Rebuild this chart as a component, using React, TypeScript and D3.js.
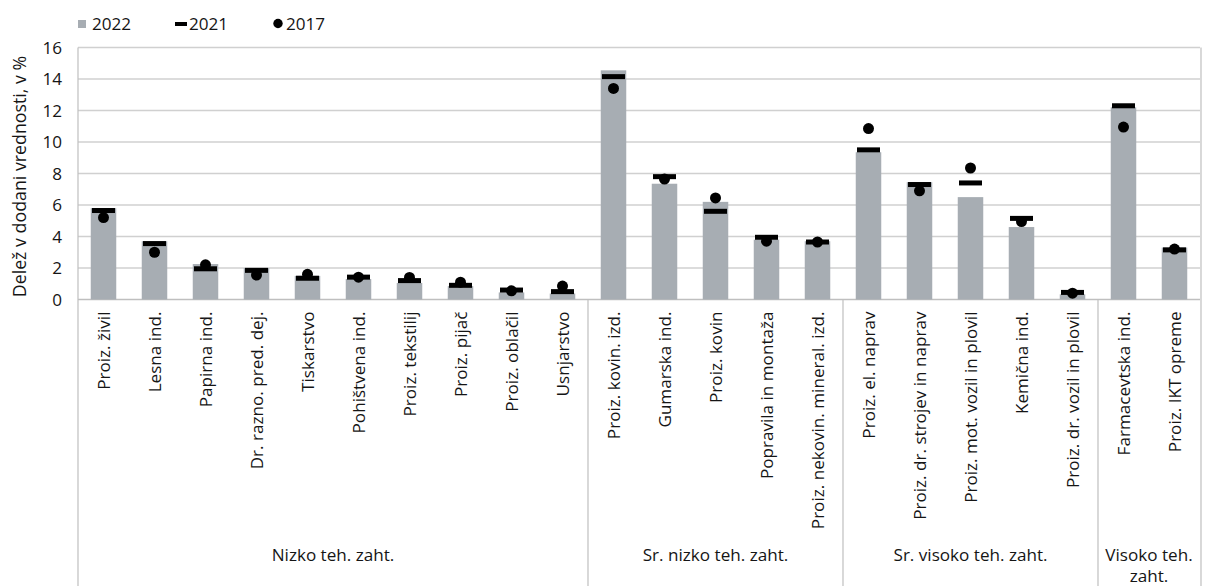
import React from "react";
import * as d3 from "d3";

const categories = [
  "Proiz. živil", "Lesna ind.", "Papirna ind.", "Dr. razno. pred. dej.", "Tiskarstvo",
  "Pohištvena ind.", "Proiz. tekstilij", "Proiz. pijač", "Proiz. oblačil", "Usnjarstvo",
  "Proiz. kovin. izd.", "Gumarska ind.", "Proiz. kovin", "Popravila in montaža", "Proiz. nekovin. mineral. izd.",
  "Proiz. el. naprav", "Proiz. dr. strojev in naprav", "Proiz. mot. vozil in plovil", "Kemična ind.", "Proiz. dr. vozil in plovil",
  "Farmacevtska ind.", "Proiz. IKT opreme",
];
const values2022 = [5.8, 3.7, 2.25, 2.0, 1.5, 1.3, 1.05, 0.85, 0.45, 0.38, 14.55, 7.35, 6.2, 3.8, 3.7, 9.35, 7.45, 6.5, 4.6, 0.33, 12.2, 3.3];
const values2021 = [5.65, 3.55, 1.95, 1.85, 1.35, 1.42, 1.2, 0.9, 0.6, 0.5, 14.15, 7.8, 5.6, 3.95, 3.65, 9.5, 7.3, 7.4, 5.15, 0.45, 12.3, 3.15];
const values2017 = [5.2, 3.0, 2.2, 1.55, 1.6, 1.42, 1.4, 1.1, 0.55, 0.85, 13.4, 7.65, 6.45, 3.7, 3.65, 10.85, 6.9, 8.35, 4.95, 0.4, 10.95, 3.2];
const groups = [
  { lines: ["Nizko teh. zaht."], count: 10 },
  { lines: ["Sr. nizko teh. zaht."], count: 5 },
  { lines: ["Sr. visoko teh. zaht."], count: 5 },
  { lines: ["Visoko teh.", "zaht."], count: 2 },
];
const yTicks = [0, 2, 4, 6, 8, 10, 12, 14, 16];
const legendLabels = ["2022", "2021", "2017"];

const W = 1207, H = 586;
const left = 78, right = 1200, top = 47.5, bottom = 299.5;
const FONT = "'Open Sans', 'Noto Sans', sans-serif";
const FS = 17.1;
const BAR = "#a7adb3";
const GRID = "#d0d0d0";
const AXIS = "#bfbfbf";
const TXT = "#151515";

export default function App() {
  const x = d3.scaleBand<string>().domain(categories).range([left, right]).paddingInner(0.5).paddingOuter(0.25);
  const y = d3.scaleLinear().domain([0, 16]).range([bottom, top]);
  const step = x.step();
  const bw = x.bandwidth();
  const dashW = 23, dashH = 5, r = 5.5;

  let acc = 0;
  const groupBounds = groups.map((g) => {
    const s = acc;
    acc += g.count;
    return { ...g, x0: left + s * step, x1: left + acc * step };
  });

  return (
    <svg width={W} height={H} style={{ position: "absolute", left: 0, top: 0, background: "#fff" }} fontFamily={FONT}>
      {/* legend */}
      <g fontSize={FS} fill={TXT}>
        <rect x={78} y={20} width={8} height={8} fill={BAR} />
        <text x={92} y={29.5}>{legendLabels[0]}</text>
        <rect x={175} y={22} width={12} height={4} fill="#000" />
        <text x={189} y={29.5}>{legendLabels[1]}</text>
        <circle cx={278} cy={23.5} r={4.7} fill="#000" />
        <text x={286} y={29.5}>{legendLabels[2]}</text>
      </g>
      {/* gridlines */}
      {yTicks.map((t) => (
        <line key={t} x1={left} x2={right} y1={y(t)} y2={y(t)} stroke={t === 0 ? AXIS : GRID} strokeWidth={1.3} />
      ))}
      {/* plot border sides */}
      <line x1={left} x2={left} y1={top} y2={H} stroke={AXIS} strokeWidth={1.2} />
      <line x1={right + 1} x2={right + 1} y1={top} y2={H} stroke={AXIS} strokeWidth={1.2} />
      {/* y ticks */}
      <g fontSize={FS} fill={TXT} textAnchor="end">
        {yTicks.map((t) => (
          <text key={t} x={62} y={y(t) + 6}>{t}</text>
        ))}
      </g>
      <text
        transform={`translate(25.5,${(top + bottom) / 2 + 3}) rotate(-90)`}
        textAnchor="middle"
        fontSize={17.8}
        fill={TXT}
      >
        Delež v dodani vrednosti, v %
      </text>
      {/* bars */}
      {categories.map((c, i) => (
        <rect key={c} x={x(c)!} y={y(values2022[i])} width={bw} height={y(0) - y(values2022[i])} fill={BAR} />
      ))}
      {categories.map((c, i) => (
        <rect key={c + "d"} x={x(c)! + bw / 2 - dashW / 2} y={y(values2021[i]) - dashH / 2} width={dashW} height={dashH} fill="#000" />
      ))}
      {categories.map((c, i) => (
        <circle key={c + "p"} cx={x(c)! + bw / 2} cy={y(values2017[i])} r={r} fill="#000" />
      ))}
      {/* group separators */}
      {groupBounds.slice(1).map((g, i) => (
        <line key={i} x1={g.x0} x2={g.x0} y1={bottom} y2={H} stroke={AXIS} strokeWidth={1.2} />
      ))}
      {/* category labels */}
      <g fontSize={FS} fill={TXT}>
        {categories.map((c) => (
          <text key={c} transform={`translate(${x(c)! + bw / 2 + 6},${bottom + 12}) rotate(-90)`} textAnchor="end">
            {c}
          </text>
        ))}
      </g>
      {/* group labels */}
      <g fontSize={FS} fill={TXT} textAnchor="middle">
        {groupBounds.map((g, i) => (
          <text key={i} x={(g.x0 + g.x1) / 2} y={561}>
            {g.lines.map((l, j) => (
              <tspan key={j} x={(g.x0 + g.x1) / 2} dy={j === 0 ? 0 : 21}>{l}</tspan>
            ))}
          </text>
        ))}
      </g>
    </svg>
  );
}
